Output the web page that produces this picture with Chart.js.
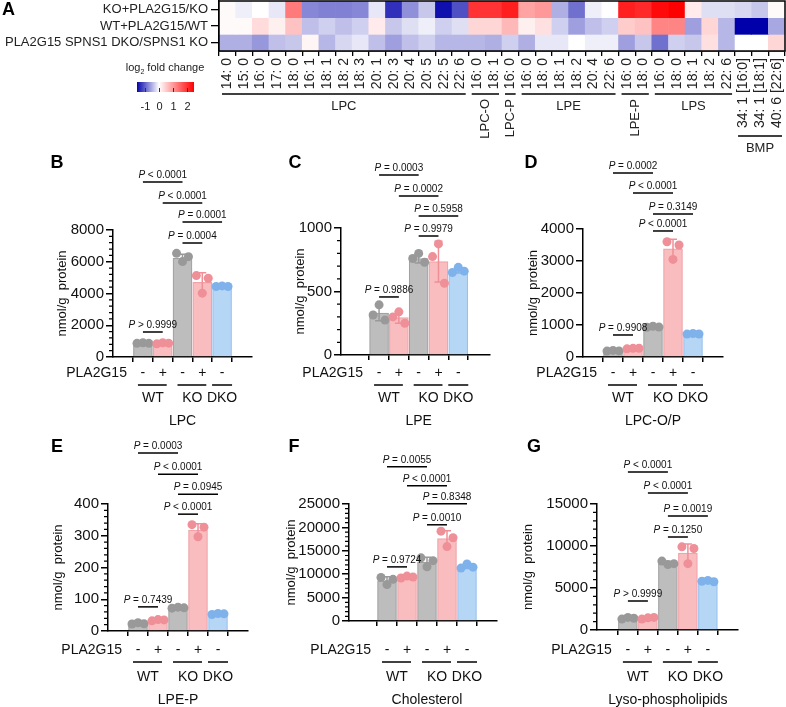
<!DOCTYPE html>
<html>
<head>
<meta charset="utf-8">
<title>PLA2G15 lipidomics</title>
<script src="https://cdn.jsdelivr.net/npm/chart.js@4.4.1/dist/chart.umd.min.js"></script>
<style>
  body { margin: 0; background: #fff; }
  #fig { position: relative; width: 786px; height: 707px; overflow: hidden; }
  #fig canvas { position: absolute; }
</style>
</head>
<body>
<div id="fig">
  <canvas id="heat" width="786" height="160" style="left:0;top:0"></canvas>
  <canvas id="lpc" width="262" height="280" style="left:0;top:150px"></canvas>
  <canvas id="lpe" width="258" height="280" style="left:262px;top:150px"></canvas>
  <canvas id="lpcop" width="266" height="280" style="left:520px;top:150px"></canvas>
  <canvas id="lpep" width="262" height="277" style="left:0;top:430px"></canvas>
  <canvas id="chol" width="258" height="277" style="left:262px;top:430px"></canvas>
  <canvas id="lyso" width="266" height="277" style="left:520px;top:430px"></canvas>
</div>
<script>
const FONT = "'Liberation Sans', Arial, sans-serif";

// ---------- panel A: heatmap (log2 fold change) ----------
const lipidLabels = ['14: 0', '15: 0', '16: 0', '17: 0', '18: 0', '16: 1', '18: 1', '18: 2', '18: 3', '20: 1',
  '20: 3', '20: 4', '20: 5', '22: 5', '22: 6', '16: 0', '18: 1', '16: 0', '16: 0', '18: 0', '18: 1', '18: 2',
  '20: 4', '22: 6', '16: 0', '18: 0', '16: 0', '18: 0', '18: 1', '18: 2', '22: 6',
  '34: 1 [16:0]', '34: 1 [18:1]', '40: 6 [22:6]'];
const comparisons = ['KO+PLA2G15/KO', 'WT+PLA2G15/WT', 'PLA2G15 SPNS1 DKO/SPNS1 KO'];
const foldKO = [0.05, -0.1, 0, -0.15, 1.3, -0.75, -0.8, -0.8, -0.75, -0.15, -1.3, -0.7, -0.35, -1.5, -1.1,
  2.0, 2.0, 2.2, 0.9, 1.0, -0.5, -0.9, -0.1, 0, 2.2, 2.1, 2.4, 2.5, 0.2, -0.2, -0.2, -0.25, -0.35, 0.05];
const foldWT = [0.05, 0.05, 0.35, 0.15, 0.6, -0.4, -0.3, -0.4, -0.3, 0.2, -0.35, -0.2, -0.1, -0.3, -0.2,
  0.4, 0.4, 0.7, 0.15, 0.3, -0.3, -0.6, -0.4, -0.3, 0.5, 0.6, 1.2, 1.2, -0.6, 0.4, -0.45, -1.6, -1.6, -0.55];
const foldDKO = [-0.5, -0.5, -0.65, -0.4, -0.35, 0.1, -0.45, -0.25, -0.15, -0.4, -0.6, -0.4, -0.3, -0.45, -0.45,
  -0.45, -0.5, -0.3, -0.5, -0.15, -0.15, 0, -0.1, -0.1, -0.6, -0.35, -0.9, -0.3, -0.35, 0.3, -0.45, 0, 0, 0.4];
const lipidGroups = [
  { name: 'LPC', from: 0, to: 14 },
  { name: 'LPC-O', from: 15, to: 16, vertical: true },
  { name: 'LPC-P', from: 17, to: 17, vertical: true },
  { name: 'LPE', from: 18, to: 23 },
  { name: 'LPE-P', from: 24, to: 25, vertical: true },
  { name: 'LPS', from: 26, to: 30 },
  { name: 'BMP', from: 31, to: 33, low: true }
];
const colorbarTicks = [-1, 0, 1, 2];

// ---------- panels B-G: nmol/g protein ----------
const pla2g15 = ['-', '+', '-', '+', '-'];
const genotypes = ['WT', 'KO', 'DKO'];
const genotypeSpan = [[0, 1], [2, 3], [4, 4]];
const pairs = [[0, 2], [1, 3], [2, 4], [2, 3], [0, 1]];

const lpcMean = [870, 860, 6220, 4700, 4430];
const lpcSd = [25, 35, 260, 600, 30];
const lpcDots = [[860, 900, 860], [830, 900, 870], [6530, 6010, 6320], [5130, 4020, 4960], [4440, 4480, 4440]];
const lpcP = ['< 0.0001', '< 0.0001', '= 0.0001', '= 0.0004', '> 0.9999'];

const lpeMean = [330, 295, 760, 735, 665];
const lpeSd = [60, 45, 35, 160, 20];
const lpeDots = [[315, 395, 275], [300, 340, 250], [760, 800, 730], [775, 875, 565], [650, 690, 660]];
const lpeP = ['= 0.0003', '= 0.0002', '= 0.5958', '= 0.9979', '= 0.9886'];

const lpcopMean = [195, 265, 940, 3380, 720];
const lpcopSd = [12, 12, 20, 300, 12];
const lpcopDots = [[185, 205, 190], [255, 270, 275], [930, 960, 935], [3600, 3050, 3500], [715, 735, 720]];
const lpcopP = ['= 0.0002', '< 0.0001', '= 0.3149', '< 0.0001', '= 0.9908'];

const lpepMean = [23, 34, 73, 318, 54];
const lpepSd = [2, 2, 2, 20, 2];
const lpepDots = [[22, 26, 23], [32, 36, 35], [72, 75, 73], [335, 297, 327], [52, 55, 54]];
const lpepP = ['= 0.0003', '< 0.0001', '= 0.0945', '< 0.0001', '= 0.7439'];

const cholMean = [8600, 9300, 12600, 17600, 11650];
const cholSd = [850, 250, 1000, 1700, 450];
const cholDots = [[9300, 7800, 8900], [9200, 9600, 9400], [13500, 11600, 12900], [19200, 15900, 17800], [11300, 12200, 11500]];
const cholP = ['= 0.0055', '< 0.0001', '= 0.8348', '= 0.0010', '= 0.9724'];

const lysoMean = [1400, 1420, 7950, 9150, 5800];
const lysoSd = [100, 100, 200, 1100, 80];
const lysoDots = [[1300, 1500, 1400], [1300, 1450, 1500], [8200, 7800, 7900], [9900, 7900, 9700], [5800, 5900, 5750]];
const lysoP = ['< 0.0001', '< 0.0001', '= 0.0019', '= 0.1250', '> 0.9999'];

// styles
const fillColors = ['#bdbdbd', '#f9bdc0', '#bdbdbd', '#f9bdc0', '#b6d6f6'];
const edgeColors = ['#a2a2a2', '#f0a3a8', '#a2a2a2', '#f0a3a8', '#96c1ee'];
const dotColors = ['#999999', '#ef8f98', '#999999', '#ef8f98', '#7fb2ea'];
const jitter = [-0.3, 0, 0.3];

function foldColor(v) {
  if (v < 0) {
    const t = Math.min(1, -v / 1.6);
    const c = Math.round(255 * (1 - t));
    return `rgb(${c},${c},${Math.round(255 - t * 85)})`;
  }
  const c = Math.round(255 * (1 - Math.min(1, v / 2.5)));
  return `rgb(255,${c},${c})`;
}

// ---------- heatmap ----------
const heatDecor = {
  id: 'heatDecor',
  afterDraw(chart) {
    const { ctx, chartArea: a, scales: { x } } = chart;
    const colW = a.width / lipidLabels.length;
    ctx.save();
    ctx.strokeStyle = '#000';
    ctx.lineWidth = 1.5;
    ctx.strokeRect(a.left, a.top, a.width, a.height);

    ctx.fillStyle = '#222';
    ctx.font = `13px ${FONT}`;
    lipidGroups.forEach(g => {
      const x0 = x.getPixelForValue(g.from) - colW / 2 + 3;
      const x1 = x.getPixelForValue(g.to) + colW / 2 - 3;
      const ly = g.low ? 136 : 94;
      ctx.beginPath();
      ctx.moveTo(x0, ly);
      ctx.lineTo(x1, ly);
      ctx.stroke();
      const cx = (x0 + x1) / 2;
      if (g.vertical) {
        ctx.save();
        ctx.translate(cx, 99);
        ctx.rotate(-Math.PI / 2);
        ctx.textAlign = 'right';
        ctx.textBaseline = 'middle';
        ctx.fillText(g.name, 0, 0);
        ctx.restore();
      } else {
        ctx.textAlign = 'center';
        ctx.textBaseline = 'middle';
        ctx.fillText(g.name, cx, ly + 12);
      }
    });

    // colour bar
    const vMin = -1.57, vMax = 2.5, bx = 137, bw = 57, by = 82, bh = 10;
    const toX = v => bx + (v - vMin) / (vMax - vMin) * bw;
    const grad = ctx.createLinearGradient(bx, 0, bx + bw, 0);
    [-1.57, -1.2, -0.8, -0.4, 0, 0.5, 1, 1.5, 2, 2.5].forEach(v => {
      grad.addColorStop((v - vMin) / (vMax - vMin), foldColor(v));
    });
    ctx.fillStyle = grad;
    ctx.fillRect(bx, by, bw, bh);
    ctx.strokeStyle = '#333';
    ctx.lineWidth = 1;
    ctx.fillStyle = '#222';
    ctx.font = `11px ${FONT}`;
    ctx.textAlign = 'center';
    ctx.textBaseline = 'middle';
    colorbarTicks.forEach(v => {
      const tx = Math.round(toX(v)) + 0.5;
      ctx.beginPath();
      ctx.moveTo(tx, by + bh - 4);
      ctx.lineTo(tx, by + bh);
      ctx.stroke();
      ctx.fillText(String(v), tx, 107);
    });
    // title: log2 fold change
    const t1 = 'log', t3 = ' fold change';
    const w1 = ctx.measureText(t1).width, w3 = ctx.measureText(t3).width;
    ctx.font = `7px ${FONT}`;
    const w2 = ctx.measureText('2').width;
    const sx = 165 - (w1 + w2 + w3) / 2;
    ctx.textAlign = 'left';
    ctx.font = `11px ${FONT}`;
    ctx.fillText(t1, sx, 68);
    ctx.font = `7px ${FONT}`;
    ctx.fillText('2', sx + w1, 72);
    ctx.font = `11px ${FONT}`;
    ctx.fillText(t3, sx + w1 + w2, 68);

    ctx.font = `bold 18px ${FONT}`;
    ctx.fillStyle = '#000';
    ctx.fillText('A', 2, 10);
    ctx.restore();
  }
};

new Chart(document.getElementById('heat'), {
  type: 'bar',
  data: {
    labels: lipidLabels,
    datasets: [foldKO, foldWT, foldDKO].map((row, i) => ({
      label: comparisons[i],
      data: row.map(() => 1),
      backgroundColor: row.map(foldColor),
      borderWidth: 0,
      barPercentage: 1,
      categoryPercentage: 1
    }))
  },
  options: {
    responsive: false,
    animation: false,
    layout: { padding: { top: 1, right: 1, left: 0, bottom: 0 }, autoPadding: false },
    plugins: { legend: { display: false }, tooltip: { enabled: false } },
    scales: {
      x: {
        stacked: true,
        ticks: { autoSkip: false, minRotation: 90, maxRotation: 90, padding: 2, color: '#222', font: { family: FONT, size: 14 } },
        grid: { drawOnChartArea: false, tickLength: 5, color: '#000', lineWidth: 1.3 },
        border: { color: '#000', width: 1.5 },
        afterFit: s => { s.height = 109; s.paddingLeft = 0; s.paddingRight = 0; }
      },
      y: {
        stacked: true,
        min: 0,
        max: 3,
        reverse: true,
        afterBuildTicks: s => { s.ticks = [0.5, 1.5, 2.5].map(v => ({ value: v })); },
        ticks: { callback: v => comparisons[Math.floor(v)], padding: 3, color: '#222', font: { family: FONT, size: 13 } },
        grid: { drawOnChartArea: false, tickLength: 8, color: '#000', lineWidth: 1.3 },
        border: { color: '#000', width: 1.5 },
        afterFit: s => { s.width = 219; s.paddingTop = 0; s.paddingBottom = 0; }
      }
    }
  },
  plugins: [heatDecor]
});

// ---------- bar panels ----------
const row1 = { signs: 373, line: 385, group: 398, title: 421 };
const row2 = { signs: 650, line: 662, group: 677, title: 700 };

const panels = [
  { id: 'lpc', letter: 'B', title: 'LPC', mean: lpcMean, sd: lpcSd, dots: lpcDots, pv: lpcP,
    yMax: 8000, yStep: 2000, yMinor: 400, xMin: -0.81, xMax: 4.81,
    box: { x: 0, y: 150, w: 262, h: 280 }, area: { l: 113, t: 230, r: 252, b: 357 },
    bracketY: [11024, 9700, 8504, 7181, 1575], yTitleX: 62, letterAt: [57, 163], row: row1 },
  { id: 'lpe', letter: 'C', title: 'LPE', mean: lpeMean, sd: lpeSd, dots: lpeDots, pv: lpeP,
    yMax: 1000, yStep: 500, yMinor: 100, xMin: -1.17, xMax: 4.85,
    box: { x: 262, y: 150, w: 258, h: 280 }, area: { l: 341, t: 228, r: 490, b: 355 },
    bracketY: [1417, 1252, 1094, 937, 457], yTitleX: 300, letterAt: [295, 163], row: row1 },
  { id: 'lpcop', letter: 'D', title: 'LPC-O/P', mean: lpcopMean, sd: lpcopSd, dots: lpcopDots, pv: lpcopP,
    yMax: 4000, yStep: 1000, yMinor: 0, xMin: -0.8, xMax: 4.8,
    box: { x: 520, y: 150, w: 266, h: 280 }, area: { l: 583, t: 229, r: 723, b: 357 },
    bracketY: [5750, 5125, 4469, 3938, 688], yTitleX: 533, letterAt: [531, 163], row: row1 },
  { id: 'lpep', letter: 'E', title: 'LPE-P', mean: lpepMean, sd: lpepSd, dots: lpepDots, pv: lpepP,
    yMax: 400, yStep: 100, yMinor: 20, xMin: -0.8, xMax: 4.8,
    box: { x: 0, y: 430, w: 262, h: 277 }, area: { l: 108, t: 504, r: 248, b: 631 },
    bracketY: [561, 494, 431, 368, 76], yTitleX: 58, letterAt: [57, 447], row: row2 },
  { id: 'chol', letter: 'F', title: 'Cholesterol', mean: cholMean, sd: cholSd, dots: cholDots, pv: cholP,
    yMax: 25000, yStep: 5000, yMinor: 1000, xMin: -1.16, xMax: 4.76,
    box: { x: 262, y: 430, w: 258, h: 277 }, area: { l: 349, t: 504, r: 497, b: 621 },
    bracketY: [32976, 28908, 25054, 20557, 11563], yTitleX: 291, letterAt: [294, 447], row: row2 },
  { id: 'lyso', letter: 'G', title: 'Lyso-phospholipids', mean: lysoMean, sd: lysoSd, dots: lysoDots, pv: lysoP,
    yMax: 15000, yStep: 5000, yMinor: 1000, xMin: -0.84, xMax: 4.8,
    box: { x: 520, y: 430, w: 266, h: 277 }, area: { l: 597, t: 504, r: 738, b: 630 },
    bracketY: [18810, 16310, 13571, 11071, 3452], yTitleX: 528, letterAt: [534, 447], row: row2 }
];

function pText(ctx, cx, y, rest) {
  ctx.font = `italic 10px ${FONT}`;
  const wP = ctx.measureText('P').width;
  ctx.font = `10px ${FONT}`;
  const wR = ctx.measureText(' ' + rest).width;
  const x0 = cx - (wP + wR) / 2;
  ctx.textAlign = 'left';
  ctx.font = `italic 10px ${FONT}`;
  ctx.fillText('P', x0, y);
  ctx.font = `10px ${FONT}`;
  ctx.fillText(' ' + rest, x0 + wP, y);
}

function buildPanel(p) {
  const oy = p.box.y, ox = p.box.x;

  const decor = {
    id: 'decor',
    afterDatasetDraw(chart, args) {
      if (args.index !== 0) return;
      const { ctx, scales: { x, y } } = chart;
      ctx.save();
      ctx.lineWidth = 1.5;
      p.mean.forEach((m, i) => {
        const cx = x.getPixelForValue(i);
        const top = y.getPixelForValue(m + p.sd[i]);
        const bot = y.getPixelForValue(Math.max(0, m - p.sd[i]));
        ctx.strokeStyle = dotColors[i];
        ctx.beginPath();
        ctx.moveTo(cx, top); ctx.lineTo(cx, bot);
        ctx.moveTo(cx - 4, top); ctx.lineTo(cx + 4, top);
        ctx.moveTo(cx - 4, bot); ctx.lineTo(cx + 4, bot);
        ctx.stroke();
      });
      ctx.restore();
    },
    afterDraw(chart) {
      const { ctx, chartArea: a, scales: { x, y } } = chart;
      ctx.save();
      ctx.strokeStyle = '#000';
      ctx.fillStyle = '#111';
      ctx.lineWidth = 1.5;

      // minor y ticks
      if (p.yMinor) {
        ctx.beginPath();
        for (let v = p.yMinor; v < p.yMax; v += p.yMinor) {
          if (v % p.yStep === 0) continue;
          const ty = y.getPixelForValue(v);
          ctx.moveTo(a.left - 4, ty);
          ctx.lineTo(a.left, ty);
        }
        ctx.lineWidth = 1.2;
        ctx.stroke();
        ctx.lineWidth = 1.5;
      }

      // comparison brackets
      ctx.textBaseline = 'alphabetic';
      pairs.forEach(([i, j], k) => {
        const ly = y.getPixelForValue(p.bracketY[k]);
        const x0 = x.getPixelForValue(i), x1 = x.getPixelForValue(j);
        ctx.beginPath();
        ctx.moveTo(x0, ly); ctx.lineTo(x1, ly);
        ctx.stroke();
        pText(ctx, (x0 + x1) / 2, ly - 4, p.pv[k]);
      });

      // PLA2G15 +/- row and genotype groups
      ctx.textBaseline = 'middle';
      ctx.font = `14px ${FONT}`;
      ctx.textAlign = 'right';
      ctx.fillText('PLA2G15', x.getPixelForValue(0) - 16, p.row.signs - oy);
      ctx.textAlign = 'center';
      pla2g15.forEach((s, i) => ctx.fillText(s, x.getPixelForValue(i), p.row.signs - oy));
      genotypes.forEach((g, k) => {
        const [i, j] = genotypeSpan[k];
        const xa = x.getPixelForValue(i), xb = x.getPixelForValue(j);
        const x0 = i === j ? xa - 10 : xa - 5, x1 = i === j ? xb + 10 : xb + 4;
        ctx.beginPath();
        ctx.moveTo(x0, p.row.line - oy); ctx.lineTo(x1, p.row.line - oy);
        ctx.stroke();
        ctx.fillText(g, (xa + xb) / 2, p.row.group - oy);
      });
      ctx.fillText(p.title, x.getPixelForValue(2), p.row.title - oy);

      // y axis title
      ctx.save();
      ctx.translate(p.yTitleX - ox, (a.top + a.bottom) / 2);
      ctx.rotate(-Math.PI / 2);
      ctx.font = `13px ${FONT}`;
      ctx.fillText('nmol/g  protein', 0, 0);
      ctx.restore();

      // panel letter
      ctx.font = `bold 18px ${FONT}`;
      ctx.fillStyle = '#000';
      ctx.fillText(p.letter, p.letterAt[0] - ox, p.letterAt[1] - oy);
      ctx.restore();
    }
  };

  new Chart(document.getElementById(p.id), {
    data: {
      datasets: [
        {
          type: 'bar',
          data: p.mean.map((m, i) => ({ x: i, y: m })),
          backgroundColor: fillColors,
          borderColor: edgeColors,
          borderWidth: 1.2,
          barThickness: 19,
          order: 1
        },
        {
          type: 'scatter',
          data: p.dots.flatMap((trio, i) => trio.map((v, k) => ({ x: i + jitter[k], y: v }))),
          pointBackgroundColor: p.dots.flatMap((trio, i) => trio.map(() => dotColors[i])),
          pointBorderWidth: 0,
          pointRadius: 4.5,
          order: 0
        }
      ]
    },
    options: {
      responsive: false,
      animation: false,
      layout: {
        autoPadding: false,
        padding: { top: p.area.t - oy, left: 0, right: ox + p.box.w - p.area.r, bottom: 0 }
      },
      plugins: { legend: { display: false }, tooltip: { enabled: false } },
      scales: {
        x: {
          type: 'linear',
          min: p.xMin,
          max: p.xMax,
          afterBuildTicks: s => { s.ticks = pla2g15.map((_, i) => ({ value: i })); },
          ticks: { display: false },
          grid: { drawOnChartArea: false, tickLength: 5, color: '#000', lineWidth: 1.5 },
          border: { color: '#000', width: 1.5 },
          afterFit: s => { s.height = oy + p.box.h - p.area.b; s.paddingLeft = 0; s.paddingRight = 0; }
        },
        y: {
          min: 0,
          max: p.yMax,
          ticks: { stepSize: p.yStep, padding: 2, color: '#111', font: { family: FONT, size: 15 }, callback: v => String(v) },
          grid: { drawOnChartArea: false, tickLength: 7, color: '#000', lineWidth: 1.5 },
          border: { color: '#000', width: 1.5 },
          afterFit: s => { s.width = p.area.l - ox; s.paddingTop = 0; s.paddingBottom = 0; }
        }
      }
    },
    plugins: [decor]
  });
}

panels.forEach(buildPanel);
</script>
</body>
</html>
